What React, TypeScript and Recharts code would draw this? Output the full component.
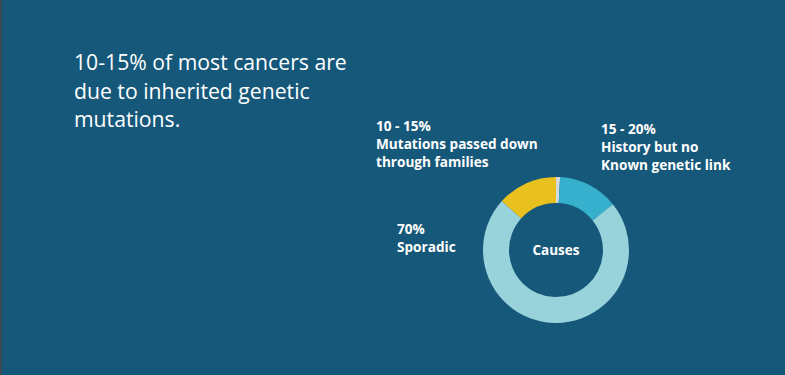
import React from "react";
import { PieChart, Pie, Cell } from "recharts";

const causes = ["Gap", "History but no known genetic link", "Sporadic", "Mutations passed down through families"];
const shares = [0.9, 13.3, 72.5, 13.3];
const colors = ["#d4dadd", "#36b0cd", "#98d3db", "#e8c11f"];

const centerLabel = "Causes";
const titleLines = ["10-15% of most cancers are", "due to inherited genetic", "mutations."];
const labelBlocks = [
  { x: 376, y: 131, lines: ["10 - 15%", "Mutations passed down", "through families"] },
  { x: 601, y: 134, lines: ["15 - 20%", "History but no", "Known genetic link"] },
  { x: 397, y: 234, lines: ["70%", "Sporadic"] },
];

const data = causes.map((name, i) => ({ name, value: shares[i] }));

const W = 785;
const H = 375;
const CX = 556;
const CY = 250;
const FONT = "'Open Sans', 'Noto Sans', sans-serif";

export default function App() {
  return (
    <div style={{ position: "fixed", left: 0, top: 0, width: W, height: H, background: "#16587a", overflow: "hidden" }}>
      <div style={{ position: "absolute", left: 0, top: 0, width: 2, height: H, background: "#3c4852" }} />
      <div style={{ position: "absolute", left: 0, top: 0 }}>
        <PieChart width={W} height={H} margin={{ top: 0, right: 0, bottom: 0, left: 0 }}>
          <Pie
            data={data}
            dataKey="value"
            nameKey="name"
            cx={CX}
            cy={CY}
            innerRadius={47}
            outerRadius={73}
            startAngle={90}
            endAngle={-270}
            stroke="none"
            isAnimationActive={false}
          >
            {data.map((d, i) => (
              <Cell key={d.name} fill={colors[i]} />
            ))}
          </Pie>
        </PieChart>
      </div>
      <svg width={W} height={H} style={{ position: "absolute", left: 0, top: 0, pointerEvents: "none" }}>
        {titleLines.map((t, i) => (
          <text key={t} x={74} y={70 + i * 28.5} fill="#ffffff" fontFamily={FONT} fontSize={21.2}>
            {t}
          </text>
        ))}
        {labelBlocks.map((b) =>
          b.lines.map((t, i) => (
            <text key={t} x={b.x} y={b.y + i * 18} fill="#ffffff" fontFamily={FONT} fontWeight={700} fontSize={13.6}>
              {t}
            </text>
          ))
        )}
        <text x={CX} y={CY + 5} textAnchor="middle" fill="#ffffff" fontFamily={FONT} fontWeight={700} fontSize={13.5}>
          {centerLabel}
        </text>
      </svg>
    </div>
  );
}
